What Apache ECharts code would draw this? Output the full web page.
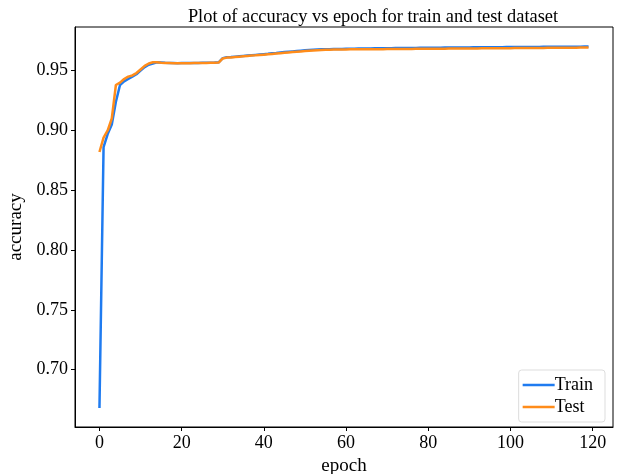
<!DOCTYPE html>
<html><head><meta charset="utf-8">
<script src="https://cdn.jsdelivr.net/npm/echarts@6/dist/echarts.min.js"></script>
<style>html,body{margin:0;padding:0;background:#fff}#c{width:620px;height:474px}</style>
</head><body><div id="c"></div>
<script>
const epochs = [];
for (let i = 0; i < 120; i++) epochs.push(i);
const trainAcc = [
0.668,0.886,0.897,0.905,0.924,0.938,0.941,0.943,0.945,0.947,
0.950,0.953,0.955,0.956,0.957,0.9568,0.9566,0.9565,0.9564,0.9562,
0.9563,0.9564,0.9563,0.9564,0.9565,0.9566,0.9566,0.9567,0.9568,0.9570,
0.9605,0.9612,0.9614,0.9617,0.9620,0.9623,0.9626,0.9629,0.9632,0.9635,
0.9638,0.9641,0.9645,0.9648,0.9652,0.9655,0.9658,0.9661,0.9664,0.9667,
0.9670,0.9672,0.9674,0.9676,0.9678,0.9679,0.9680,0.9681,0.9682,0.9682,
0.9683,0.9684,0.9684,0.9685,0.9685,0.9686,0.9686,0.9687,0.9687,0.9688,
0.9688,0.9688,0.9689,0.9689,0.9689,0.9690,0.9690,0.9690,0.9691,0.9691,
0.9691,0.9692,0.9692,0.9692,0.9693,0.9693,0.9693,0.9694,0.9694,0.9694,
0.9694,0.9695,0.9695,0.9695,0.9695,0.9696,0.9696,0.9696,0.9696,0.9697,
0.9697,0.9697,0.9697,0.9698,0.9698,0.9698,0.9698,0.9698,0.9699,0.9699,
0.9699,0.9699,0.9699,0.9700,0.9700,0.9700,0.9700,0.9700,0.9701,0.9701
];
const testAcc = [
0.882,0.894,0.900,0.910,0.938,0.940,0.943,0.945,0.946,0.948,
0.951,0.954,0.956,0.957,0.957,0.9566,0.9564,0.9563,0.9562,0.9561,
0.9561,0.9562,0.9562,0.9563,0.9563,0.9564,0.9565,0.9566,0.9567,0.9568,
0.9602,0.9609,0.9611,0.9614,0.9617,0.9620,0.9623,0.9626,0.9628,0.9631,
0.9634,0.9637,0.9640,0.9643,0.9646,0.9649,0.9652,0.9655,0.9658,0.9661,
0.9664,0.9667,0.9669,0.9671,0.9673,0.9674,0.9675,0.9676,0.9676,0.9677,
0.9677,0.9678,0.9678,0.9678,0.9679,0.9679,0.9679,0.9680,0.9680,0.9680,
0.9681,0.9681,0.9681,0.9682,0.9682,0.9682,0.9682,0.9683,0.9683,0.9683,
0.9683,0.9684,0.9684,0.9684,0.9684,0.9685,0.9685,0.9685,0.9685,0.9686,
0.9686,0.9686,0.9686,0.9687,0.9687,0.9687,0.9687,0.9688,0.9688,0.9688,
0.9688,0.9689,0.9689,0.9689,0.9689,0.9690,0.9690,0.9690,0.9690,0.9691,
0.9691,0.9691,0.9691,0.9692,0.9692,0.9692,0.9692,0.9693,0.9693,0.9693
];
const xTicks = [0,20,40,60,80,100,120];
const yTicks = [0.70,0.75,0.80,0.85,0.90,0.95];

const font = 'Liberation Serif, Times New Roman, serif';
const chart = echarts.init(document.getElementById('c'), null, {renderer:'canvas'});
chart.setOption({
  animation:false,
  backgroundColor:'#fff',
  title:{text:'Plot of accuracy vs epoch for train and test dataset', left:368, top:3, textAlign:'center',
    textStyle:{fontFamily:font,fontWeight:'normal',fontSize:18.4,color:'#000'}},
  grid:{left:75,right:7,top:27,bottom:47,show:true,borderColor:'#000',borderWidth:1,containLabel:false,outerBoundsMode:'none'},
  legend:{right:15,bottom:52,orient:'vertical',icon:'rect',itemWidth:32,itemHeight:2.5,itemGap:2,
    padding:[5,12,5,4],borderColor:'#ddd',borderWidth:1,borderRadius:3,backgroundColor:'rgba(255,255,255,0.8)',
    textStyle:{fontFamily:font,fontSize:18,lineHeight:20,color:'#000',padding:[0,0,0,-5]},
    data:['Train','Test']},
  xAxis:{type:'value',min:-5.95,max:124.95,
    name:'epoch',nameLocation:'middle',nameGap:29,nameTextStyle:{fontFamily:font,fontSize:19,color:'#000'},
    axisLine:{show:true,onZero:false,lineStyle:{color:'#000',width:1}},
    axisTick:{show:true,length:4,customValues:xTicks,lineStyle:{color:'#000'}},
    axisLabel:{customValues:xTicks,margin:7,fontFamily:font,fontSize:18,color:'#000'},
    splitLine:{show:false}},
  yAxis:{type:'value',min:0.6521,max:0.9865,
    name:'accuracy',nameLocation:'middle',nameGap:47,nameRotate:90,nameTextStyle:{fontFamily:font,fontSize:19,color:'#000'},
    axisLine:{show:true,onZero:false,lineStyle:{color:'#000',width:1}},
    axisTick:{show:true,length:4,customValues:yTicks,lineStyle:{color:'#000'}},
    axisLabel:{customValues:yTicks,margin:7,fontFamily:font,fontSize:18,color:'#000',formatter:v=>v.toFixed(2)},
    splitLine:{show:false}},
  series:[
    {name:'Train',type:'line',data:epochs.map((e,i)=>[e,trainAcc[i]]),symbol:'none',
      lineStyle:{color:'#1f7bf0',width:2.5},itemStyle:{color:'#1f7bf0'}},
    {name:'Test',type:'line',data:epochs.map((e,i)=>[e,testAcc[i]]),symbol:'none',
      lineStyle:{color:'#ff8c1a',width:2.5},itemStyle:{color:'#ff8c1a'}}
  ]
});
</script></body></html>
